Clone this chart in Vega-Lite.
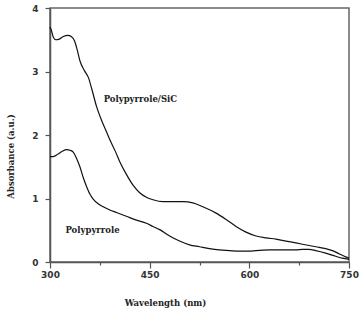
{
  "$schema": "https://vega.github.io/schema/vega-lite/v6.json",
  "width": 299,
  "height": 254,
  "autosize": "none",
  "padding": {"left": 50, "top": 8, "right": 13, "bottom": 56},
  "background": "white",
  "config": {
    "view": {"stroke": "#666666", "strokeWidth": 1.5},
    "axis": {
      "grid": false,
      "domainColor": "#555555",
      "domainWidth": 1.5,
      "tickColor": "#555555",
      "tickWidth": 1.2,
      "labelFont": "DejaVu Sans",
      "labelFontWeight": "bold",
      "labelFontSize": 9,
      "labelColor": "#333333",
      "titleFont": "DejaVu Serif",
      "titleFontWeight": "bold",
      "titleFontSize": 8.5,
      "titleColor": "#222222"
    }
  },
  "datasets": {
    "spectra": [
      {"sample": "Polypyrrole/SiC", "wavelength": 300, "absorbance": 3.70},
      {"sample": "Polypyrrole/SiC", "wavelength": 302, "absorbance": 3.65},
      {"sample": "Polypyrrole/SiC", "wavelength": 305, "absorbance": 3.54},
      {"sample": "Polypyrrole/SiC", "wavelength": 309, "absorbance": 3.50},
      {"sample": "Polypyrrole/SiC", "wavelength": 314, "absorbance": 3.51},
      {"sample": "Polypyrrole/SiC", "wavelength": 320, "absorbance": 3.55},
      {"sample": "Polypyrrole/SiC", "wavelength": 327, "absorbance": 3.57},
      {"sample": "Polypyrrole/SiC", "wavelength": 332, "absorbance": 3.55},
      {"sample": "Polypyrrole/SiC", "wavelength": 337, "absorbance": 3.48},
      {"sample": "Polypyrrole/SiC", "wavelength": 341, "absorbance": 3.34},
      {"sample": "Polypyrrole/SiC", "wavelength": 345, "absorbance": 3.17},
      {"sample": "Polypyrrole/SiC", "wavelength": 352, "absorbance": 3.01},
      {"sample": "Polypyrrole/SiC", "wavelength": 358, "absorbance": 2.90},
      {"sample": "Polypyrrole/SiC", "wavelength": 363, "absorbance": 2.72},
      {"sample": "Polypyrrole/SiC", "wavelength": 370, "absorbance": 2.45},
      {"sample": "Polypyrrole/SiC", "wavelength": 378, "absorbance": 2.22},
      {"sample": "Polypyrrole/SiC", "wavelength": 385, "absorbance": 2.05},
      {"sample": "Polypyrrole/SiC", "wavelength": 392, "absorbance": 1.88},
      {"sample": "Polypyrrole/SiC", "wavelength": 398, "absorbance": 1.75},
      {"sample": "Polypyrrole/SiC", "wavelength": 405, "absorbance": 1.58},
      {"sample": "Polypyrrole/SiC", "wavelength": 415, "absorbance": 1.38},
      {"sample": "Polypyrrole/SiC", "wavelength": 425, "absorbance": 1.21},
      {"sample": "Polypyrrole/SiC", "wavelength": 435, "absorbance": 1.09},
      {"sample": "Polypyrrole/SiC", "wavelength": 445, "absorbance": 1.02},
      {"sample": "Polypyrrole/SiC", "wavelength": 455, "absorbance": 0.98},
      {"sample": "Polypyrrole/SiC", "wavelength": 470, "absorbance": 0.95},
      {"sample": "Polypyrrole/SiC", "wavelength": 485, "absorbance": 0.95},
      {"sample": "Polypyrrole/SiC", "wavelength": 500, "absorbance": 0.95},
      {"sample": "Polypyrrole/SiC", "wavelength": 515, "absorbance": 0.93},
      {"sample": "Polypyrrole/SiC", "wavelength": 530, "absorbance": 0.87},
      {"sample": "Polypyrrole/SiC", "wavelength": 550, "absorbance": 0.77},
      {"sample": "Polypyrrole/SiC", "wavelength": 565, "absorbance": 0.67},
      {"sample": "Polypyrrole/SiC", "wavelength": 580, "absorbance": 0.56},
      {"sample": "Polypyrrole/SiC", "wavelength": 595, "absorbance": 0.47},
      {"sample": "Polypyrrole/SiC", "wavelength": 610, "absorbance": 0.41},
      {"sample": "Polypyrrole/SiC", "wavelength": 625, "absorbance": 0.38},
      {"sample": "Polypyrrole/SiC", "wavelength": 640, "absorbance": 0.36},
      {"sample": "Polypyrrole/SiC", "wavelength": 660, "absorbance": 0.32},
      {"sample": "Polypyrrole/SiC", "wavelength": 680, "absorbance": 0.28},
      {"sample": "Polypyrrole/SiC", "wavelength": 700, "absorbance": 0.24},
      {"sample": "Polypyrrole/SiC", "wavelength": 715, "absorbance": 0.21},
      {"sample": "Polypyrrole/SiC", "wavelength": 725, "absorbance": 0.18},
      {"sample": "Polypyrrole/SiC", "wavelength": 735, "absorbance": 0.13},
      {"sample": "Polypyrrole/SiC", "wavelength": 745, "absorbance": 0.08},
      {"sample": "Polypyrrole/SiC", "wavelength": 750, "absorbance": 0.06},
      {"sample": "Polypyrrole", "wavelength": 300, "absorbance": 1.66},
      {"sample": "Polypyrrole", "wavelength": 305, "absorbance": 1.66},
      {"sample": "Polypyrrole", "wavelength": 312, "absorbance": 1.70},
      {"sample": "Polypyrrole", "wavelength": 318, "absorbance": 1.74},
      {"sample": "Polypyrrole", "wavelength": 325, "absorbance": 1.77},
      {"sample": "Polypyrrole", "wavelength": 330, "absorbance": 1.76},
      {"sample": "Polypyrrole", "wavelength": 335, "absorbance": 1.73},
      {"sample": "Polypyrrole", "wavelength": 340, "absorbance": 1.63},
      {"sample": "Polypyrrole", "wavelength": 345, "absorbance": 1.50},
      {"sample": "Polypyrrole", "wavelength": 350, "absorbance": 1.33},
      {"sample": "Polypyrrole", "wavelength": 355, "absorbance": 1.19},
      {"sample": "Polypyrrole", "wavelength": 360, "absorbance": 1.07},
      {"sample": "Polypyrrole", "wavelength": 365, "absorbance": 0.99},
      {"sample": "Polypyrrole", "wavelength": 372, "absorbance": 0.92},
      {"sample": "Polypyrrole", "wavelength": 380, "absorbance": 0.87},
      {"sample": "Polypyrrole", "wavelength": 390, "absorbance": 0.82},
      {"sample": "Polypyrrole", "wavelength": 400, "absorbance": 0.78},
      {"sample": "Polypyrrole", "wavelength": 415, "absorbance": 0.72},
      {"sample": "Polypyrrole", "wavelength": 430, "absorbance": 0.66},
      {"sample": "Polypyrrole", "wavelength": 445, "absorbance": 0.61},
      {"sample": "Polypyrrole", "wavelength": 455, "absorbance": 0.56},
      {"sample": "Polypyrrole", "wavelength": 465, "absorbance": 0.51},
      {"sample": "Polypyrrole", "wavelength": 480, "absorbance": 0.41},
      {"sample": "Polypyrrole", "wavelength": 495, "absorbance": 0.33},
      {"sample": "Polypyrrole", "wavelength": 510, "absorbance": 0.27},
      {"sample": "Polypyrrole", "wavelength": 525, "absorbance": 0.24},
      {"sample": "Polypyrrole", "wavelength": 540, "absorbance": 0.21},
      {"sample": "Polypyrrole", "wavelength": 555, "absorbance": 0.19},
      {"sample": "Polypyrrole", "wavelength": 570, "absorbance": 0.18},
      {"sample": "Polypyrrole", "wavelength": 585, "absorbance": 0.17},
      {"sample": "Polypyrrole", "wavelength": 600, "absorbance": 0.17},
      {"sample": "Polypyrrole", "wavelength": 610, "absorbance": 0.18},
      {"sample": "Polypyrrole", "wavelength": 630, "absorbance": 0.19},
      {"sample": "Polypyrrole", "wavelength": 650, "absorbance": 0.19},
      {"sample": "Polypyrrole", "wavelength": 670, "absorbance": 0.19},
      {"sample": "Polypyrrole", "wavelength": 680, "absorbance": 0.20},
      {"sample": "Polypyrrole", "wavelength": 690, "absorbance": 0.20},
      {"sample": "Polypyrrole", "wavelength": 700, "absorbance": 0.18},
      {"sample": "Polypyrrole", "wavelength": 715, "absorbance": 0.14},
      {"sample": "Polypyrrole", "wavelength": 730, "absorbance": 0.09},
      {"sample": "Polypyrrole", "wavelength": 740, "absorbance": 0.06},
      {"sample": "Polypyrrole", "wavelength": 750, "absorbance": 0.04}
    ],
    "labels": [
      {"label": "Polypyrrole/SiC", "wavelength": 436, "absorbance": 2.57},
      {"label": "Polypyrrole", "wavelength": 364, "absorbance": 0.5}
    ]
  },
  "layer": [
    {
      "data": {"name": "spectra"},
      "mark": {"type": "line", "color": "#111111", "strokeWidth": 1.2, "interpolate": "monotone"},
      "encoding": {
        "x": {
          "field": "wavelength",
          "type": "quantitative",
          "scale": {"domain": [300, 750], "nice": false, "zero": false},
          "axis": {
            "values": [300, 375, 450, 525, 600, 675, 750],
            "labelExpr": "datum.value % 150 === 0 ? datum.label : ''",
            "tickSize": {"condition": {"test": "datum.value % 150 === 0", "value": 6}, "value": 3},
            "labelPadding": 2,
            "labelFlush": false,
            "title": "Wavelength (nm)",
            "titleX": 115,
            "titleY": 40,
            "titleBaseline": "middle",
            "titleAlign": "center"
          }
        },
        "y": {
          "field": "absorbance",
          "type": "quantitative",
          "scale": {"domain": [0, 4], "nice": false},
          "axis": {
            "values": [0, 1, 2, 3, 4],
            "format": "d",
            "tickSize": 5,
            "labelPadding": 7,
            "title": "Absorbance (a.u.)",
            "titleX": -40,
            "titleY": 148,
            "titleBaseline": "middle",
            "titleAlign": "center",
            "titleAngle": 270
          }
        },
        "detail": {"field": "sample"}
      }
    },
    {
      "data": {"name": "labels"},
      "mark": {"type": "text", "font": "DejaVu Serif", "fontWeight": "bold", "fontSize": 8.5, "color": "#222222"},
      "encoding": {
        "x": {"field": "wavelength", "type": "quantitative"},
        "y": {"field": "absorbance", "type": "quantitative"},
        "text": {"field": "label"}
      }
    }
  ]
}
